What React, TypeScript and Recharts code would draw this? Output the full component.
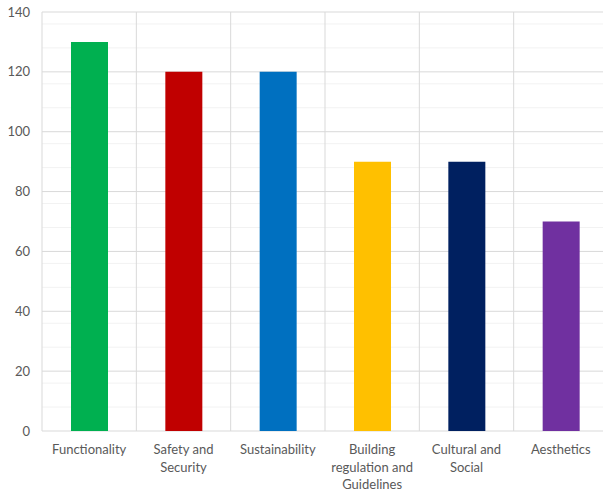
import React from "react";
import { BarChart, Bar, XAxis, YAxis, Cell, CartesianGrid, Text } from "recharts";

const categories = [
  "Functionality",
  "Safety and Security",
  "Sustainability",
  "Building regulation and Guidelines",
  "Cultural and Social",
  "Aesthetics",
];
const values = [130, 120, 120, 90, 90, 70];
const colors = ["#00b050", "#c00000", "#0070c0", "#ffc000", "#002060", "#7030a0"];
const majorTicks = [0, 20, 40, 60, 80, 100, 120, 140];
const minorTicks = [4, 8, 12, 16, 24, 28, 32, 36, 44, 48, 52, 56, 64, 68, 72, 76, 84, 88, 92, 96, 104, 108, 112, 116, 124, 128, 132, 136];

const data = categories.map((c, i) => ({ name: c, value: values[i] }));

const FONT = "Lato, 'Open Sans', sans-serif";

const XTick = (props: any) => {
  const { x, y, payload } = props;
  return (
    <Text
      x={x}
      y={y + 6}
      width={92}
      textAnchor="middle"
      verticalAnchor="start"
      lineHeight={17.5}
      fill="#595959"
      fontSize={13}
      fontFamily={FONT}
    >
      {payload.value}
    </Text>
  );
};

const bandEdges = ({ offset }: any) => {
  const n = categories.length;
  return Array.from({ length: n + 1 }, (_, i) => offset.left + (i * offset.width) / n);
};

export default function App() {
  return (
    <div style={{ position: "absolute", left: 0, top: 0, width: 603, height: 494, overflow: "hidden" }}>
      <BarChart
        width={612}
        height={494}
        data={data}
        margin={{ top: 12, right: 4, bottom: 0, left: 0 }}
        barSize={37}
        style={{ overflow: "visible" }}
      >
        <CartesianGrid
          horizontalValues={minorTicks}
          vertical={false}
          stroke="#f2f2f2"
          strokeWidth={1}
        />
        <CartesianGrid
          horizontalValues={majorTicks}
          verticalCoordinatesGenerator={bandEdges}
          stroke="#d9d9d9"
          strokeWidth={1}
        />
        <XAxis
          dataKey="name"
          axisLine={false}
          tickLine={false}
          height={63}
          interval={0}
          tick={<XTick />}
        />
        <YAxis
          domain={[0, 140]}
          ticks={majorTicks}
          width={42}
          axisLine={false}
          tickLine={false}
          tickMargin={6}
          tick={{ fill: "#595959", fontSize: 13, fontFamily: FONT }}
        />
        <Bar dataKey="value" isAnimationActive={false}>
          {data.map((d, i) => (
            <Cell key={d.name} fill={colors[i]} />
          ))}
        </Bar>
      </BarChart>
    </div>
  );
}
